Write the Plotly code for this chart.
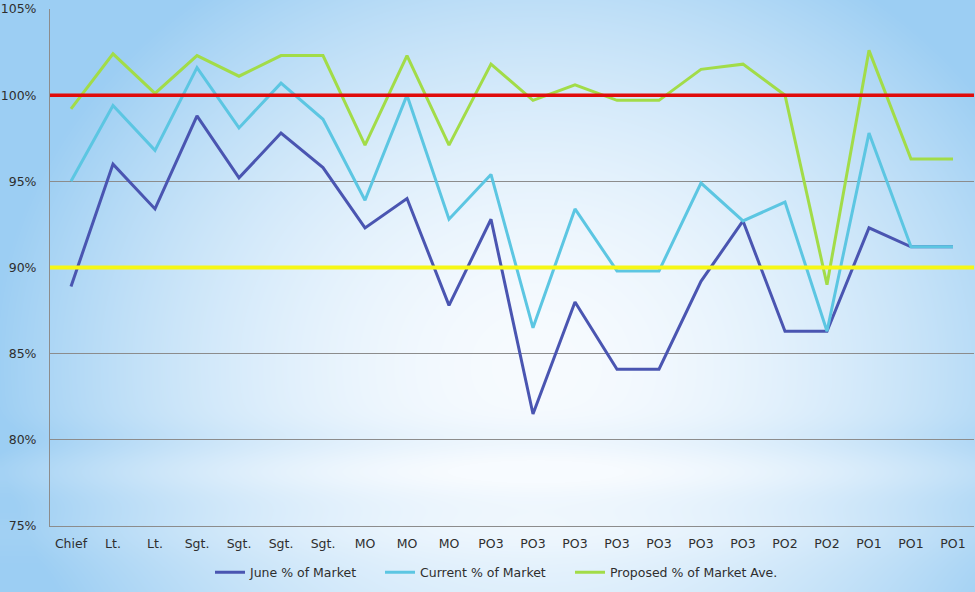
import base64
import struct
import zlib

import numpy as np
import plotly.graph_objects as go

# ---- data -------------------------------------------------------------
categories = ["Chief", "Lt.", "Lt.", "Sgt.", "Sgt.", "Sgt.", "Sgt.",
              "MO", "MO", "MO",
              "PO3", "PO3", "PO3", "PO3", "PO3", "PO3", "PO3",
              "PO2", "PO2", "PO1", "PO1", "PO1"]

june_pct = [88.9, 96.0, 93.4, 98.8, 95.2, 97.8, 95.8, 92.3, 94.0, 87.8,
            92.8, 81.5, 88.0, 84.1, 84.1, 89.2, 92.7, 86.3, 86.3,
            92.3, 91.2, 91.2]
current_pct = [95.0, 99.4, 96.8, 101.6, 98.1, 100.7, 98.6, 93.9, 100.0, 92.8,
               95.4, 86.5, 93.4, 89.8, 89.8, 94.9, 92.7, 93.8, 86.3,
               97.8, 91.2, 91.2]
proposed_pct = [99.2, 102.4, 100.1, 102.3, 101.1, 102.3, 102.3, 97.1, 102.3, 97.1,
                101.8, 99.7, 100.6, 99.7, 99.7, 101.5, 101.8, 100.0, 89.0,
                102.6, 96.3, 96.3]

series_names = ["June % of Market", "Current % of Market", "Proposed % of Market Ave."]
series_colors = ["#4a55b1", "#5cc6e2", "#a2dc48"]

target_high = 100
target_low = 90

y_ticks = [75, 80, 85, 90, 95, 100, 105]

# ---- canvas -----------------------------------------------------------
W, H = 975, 592
M_L, M_R, M_T, M_B = 50, 1, 9, 66
PW, PH = W - M_L - M_R, H - M_T - M_B


def sky_background(width, height):
    """Soft light-blue backdrop, bright in the middle, bluer at the edges."""
    u = np.linspace(0, 1, width)[None, :]
    v = np.linspace(0, 1, height)[:, None]
    d = ((u - 0.55) / 0.56) ** 2 + ((v - 0.62) / 0.80) ** 2
    w = np.clip(d, 0, 1) ** 0.9
    # faint horizontal cloud streaks in the lower part
    streak = (0.10 * np.exp(-((v - 0.80) / 0.035) ** 2)
              - 0.07 * np.exp(-((v - 0.74) / 0.03) ** 2)
              + 0.06 * np.exp(-((v - 0.90) / 0.04) ** 2))
    w = np.clip(w - streak, 0, 1)
    blue = np.array([156, 206, 243], dtype=float)
    white = np.array([247, 251, 255], dtype=float)
    img = white + w[..., None] * (blue - white)
    return np.clip(img, 0, 255).astype(np.uint8)


def to_png(arr):
    h, w, _ = arr.shape
    raw = b"".join(b"\x00" + arr[i].tobytes() for i in range(h))

    def chunk(tag, data):
        return (struct.pack(">I", len(data)) + tag + data
                + struct.pack(">I", zlib.crc32(tag + data) & 0xFFFFFFFF))

    return (b"\x89PNG\r\n\x1a\n"
            + chunk(b"IHDR", struct.pack(">IIBBBBB", w, h, 8, 2, 0, 0, 0))
            + chunk(b"IDAT", zlib.compress(raw, 9))
            + chunk(b"IEND", b""))


bg_uri = "data:image/png;base64," + base64.b64encode(to_png(sky_background(W, H))).decode()

# ---- figure -----------------------------------------------------------
font_family = "DejaVu Sans"
text_color = "#2e2e2e"

x_idx = list(range(len(categories)))
legend_ids = ["legend", "legend2", "legend3"]
legend_left_px = [210, 380, 570]   # left edge of each legend entry

fig = go.Figure()
for name, vals, col, lg in zip(series_names, [june_pct, current_pct, proposed_pct],
                               series_colors, legend_ids):
    fig.add_trace(go.Scatter(x=x_idx, y=vals, mode="lines", name=name, legend=lg,
                             line=dict(color=col, width=3)))

fig.add_hline(y=target_high, line=dict(color="#e00b0b", width=3.5), layer="above")
fig.add_hline(y=target_low, line=dict(color="#f6f715", width=4), layer="above")

fig.add_layout_image(dict(source=bg_uri, xref="paper", yref="paper",
                          x=-M_L / PW, y=1 + M_T / PH, sizex=W / PW, sizey=H / PH,
                          xanchor="left", yanchor="top", sizing="stretch", layer="below"))

legend_style = dict(orientation="h", xanchor="left", y=-0.09, yanchor="middle",
                    bgcolor="rgba(0,0,0,0)", itemwidth=30,
                    font=dict(family=font_family, size=12.5, color=text_color))
legends = {lg: dict(x=(px - M_L) / PW, **legend_style)
           for lg, px in zip(legend_ids, legend_left_px)}

fig.update_layout(
    width=W, height=H,
    margin=dict(l=M_L, r=M_R, t=M_T, b=M_B, pad=0),
    paper_bgcolor="rgba(0,0,0,0)",
    plot_bgcolor="rgba(0,0,0,0)",
    font=dict(family=font_family, size=12.5, color=text_color),
    showlegend=True,
    **legends,
    xaxis=dict(range=[-0.5, len(categories) - 0.5], tickmode="array",
               tickvals=x_idx, ticktext=categories, showgrid=False, zeroline=False,
               showline=True, linecolor="#8c8c8c", linewidth=1, ticks="",
               ticklabelstandoff=6, fixedrange=True),
    yaxis=dict(range=[75, 105], tickmode="array", tickvals=y_ticks,
               ticktext=[f"{t}%" for t in y_ticks], showgrid=True,
               gridcolor="#8c8c8c", gridwidth=1, zeroline=False,
               showline=True, linecolor="#8c8c8c", linewidth=1, ticks="",
               ticklabelstandoff=10, fixedrange=True),
)

fig.write_html("out.html")
